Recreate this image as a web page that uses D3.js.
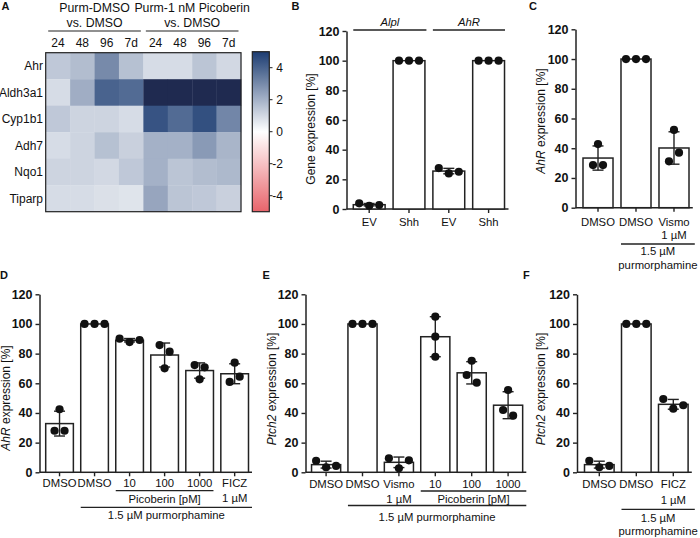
<!DOCTYPE html>
<html><head><meta charset="utf-8">
<script src="https://cdn.jsdelivr.net/npm/d3@7"></script>
<style>
body{margin:0;background:#fff}
svg{display:block}
text{font-family:"Liberation Sans",Arial,Helvetica,sans-serif;fill:#111}
</style>
</head><body>
<svg id="c" width="700" height="538"></svg>
<script>
// ---------------- DATA ----------------
// Panel A heatmap
const heatGenes = ["Ahr", "Aldh3a1", "Cyp1b1", "Adh7", "Nqo1", "Tiparp"];
const heatTimes = ["24", "48", "96", "7d", "24", "48", "96", "7d"];
const heatGroups = [["Purm-DMSO", "vs. DMSO"], ["Purm-1 nM Picoberin", "vs. DMSO"]];
const heatValues = [
  [1.4, 1.7, 3.0, 1.6, 0.9, 0.9, 1.5, 1.0],
  [0.9, 2.1, 4.0, 3.8, 6.5, 6.5, 6.5, 6.5],
  [1.4, 1.1, 1.1, 0.9, 4.4, 3.8, 4.5, 3.1],
  [0.9, 1.1, 1.6, 1.2, 2.0, 2.0, 2.6, 1.9],
  [1.1, 1.1, 1.0, 1.4, 2.0, 1.5, 1.7, 1.8],
  [0.9, 0.9, 0.8, 0.7, 2.3, 1.5, 1.4, 1.2]
];
const colorbarTicks = [4, 2, 0, -2, -4];

// Shared y ticks for bar panels
const yTicks = [0, 20, 40, 60, 80, 100, 120];

// Panel B
const bCategories = ["EV", "Shh", "EV", "Shh"];
const bGroups = ["Alpl", "AhR"];
const bPoints = [[3.8, 2.2, 2.7], [100, 100, 100], [27.6, 24.0, 25.1], [100, 100, 100]];

// Panel C
const cCategories = ["DMSO", "DMSO", "Vismo\n1 µM"];
const cPoints = [[28.7, 42.8, 28.7], [100, 100, 100], [52.3, 31.2, 37.0]];

// Panel D
const dCategories = ["DMSO", "DMSO", "10", "100", "1000", "FICZ\n1 µM"];
const dPoints = [[28.0, 42.5, 28.0], [100, 100, 100], [90.1, 87.8, 89.2], [85.8, 81.3, 70.1], [72.3, 70.8, 62.7], [73.9, 60.9, 64.5]];

// Panel E
const eCategories = ["DMSO", "DMSO", "Vismo\n1 µM", "10", "100", "1000"];
const ePoints = [[7.8, 3.4, 4.3], [100, 100, 100], [9.4, 2.7, 8.1], [104.9, 91.4, 77.9], [75.2, 65.6, 60.4], [55.5, 42.0, 38.2]];

// Panel F
const fCategories = ["DMSO", "DMSO", "FICZ\n1 µM"];
const fPoints = [[7.8, 3.4, 4.3], [100, 100, 100], [49.4, 42.9, 45.2]];

// ---------------- DRAWING ----------------
const svg = d3.select("#c");
const FONT = 12;
const CAT = 11.3;

function panelLabel(t, x, y) {
  svg.append("text").attr("x", x).attr("y", y).attr("font-size", 11).attr("font-weight", "bold").text(t);
}

// ---- Panel A ----
(function () {
  const g = svg.append("g");
  const x = d3.scaleBand().domain(d3.range(heatTimes.length)).range([45.7, 241]);
  const y = d3.scaleBand().domain(d3.range(heatGenes.length)).range([52.7, 211.7]);
  const color = d3.scaleLinear().domain([-5, 0, 5, 6.5])
    .range(["#e8646b", "#ffffff", "#1c3c72", "#1f2a50"]).interpolate(d3.interpolateRgb).clamp(true);
  heatValues.forEach((row, r) => row.forEach((v, c) => {
    g.append("rect").attr("x", x(c)).attr("y", y(r)).attr("width", x.bandwidth() + 0.3).attr("height", y.bandwidth() + 0.3)
      .attr("fill", color(v));
  }));
  g.append("rect").attr("x", 45.7).attr("y", 52.7).attr("width", 241 - 45.7).attr("height", 211.7 - 52.7)
    .attr("fill", "none").attr("stroke", "#222").attr("stroke-width", 1.2);
  heatGenes.forEach((gname, r) => {
    g.append("text").attr("x", 43).attr("y", y(r) + y.bandwidth() / 2).attr("dy", "0.35em")
      .attr("text-anchor", "end").attr("font-size", FONT).text(gname);
  });
  heatTimes.forEach((t, c) => {
    g.append("text").attr("x", x(c) + x.bandwidth() / 2).attr("y", 46.7).attr("text-anchor", "middle")
      .attr("font-size", FONT).text(t);
  });
  heatGroups.forEach((lines, k) => {
    const x0 = x(k * 4), x1 = x(k * 4 + 3) + x.bandwidth();
    const cx = (x0 + x1) / 2;
    g.append("text").attr("x", cx).attr("y", 12.3).attr("text-anchor", "middle").attr("font-size", 12.3).text(lines[0]);
    g.append("text").attr("x", cx).attr("y", 26.7).attr("text-anchor", "middle").attr("font-size", 12.3).text(lines[1]);
    g.append("line").attr("x1", x0 + 2.5).attr("x2", x1 - 2.5).attr("y1", 31).attr("y2", 31)
      .attr("stroke", "#222").attr("stroke-width", 1.2);
  });
  // colorbar
  const cb = d3.scaleLinear().domain([-5, 5]).range([211.7, 51.7]);
  const defs = svg.append("defs");
  const grad = defs.append("linearGradient").attr("id", "cbg").attr("x1", 0).attr("y1", 1).attr("x2", 0).attr("y2", 0);
  d3.range(-5, 5.01, 0.5).forEach(v => grad.append("stop").attr("offset", (v + 5) / 10).attr("stop-color", color(v)));
  g.append("rect").attr("x", 252.3).attr("y", 51.7).attr("width", 17).attr("height", 160)
    .attr("fill", "url(#cbg)").attr("stroke", "#222").attr("stroke-width", 1.2);
  colorbarTicks.forEach(t => {
    g.append("line").attr("x1", 269.3).attr("x2", 272.5).attr("y1", cb(t)).attr("y2", cb(t)).attr("stroke", "#222").attr("stroke-width", 1);
    g.append("text").attr("x", 283).attr("y", cb(t)).attr("dy", "0.35em").attr("text-anchor", "end")
      .attr("font-size", FONT).text(t < 0 ? "-" + Math.abs(t) : String(t));
  });
})();
panelLabel("A", 1.5, 9.5);

// ---- bar panel helper ----
function swarm(vals, y) {
  const idx = d3.range(vals.length).sort((a, b) => vals[a] - vals[b]);
  const clusters = []; let cur = [idx[0]];
  for (let k = 1; k < idx.length; k++) {
    if (Math.abs(y(vals[idx[k]]) - y(vals[idx[k - 1]])) < 9.5) cur.push(idx[k]);
    else { clusters.push(cur); cur = [idx[k]]; }
  }
  clusters.push(cur);
  const off = new Array(vals.length).fill(0);
  clusters.forEach(c => { c.sort((a, b) => a - b); c.forEach((id, k) => off[id] = (k - (c.length - 1) / 2) * 10); });
  return off;
}

function barPanel(cfg) {
  const g = svg.append("g");
  const y = d3.scaleLinear().domain([0, 120]).range(cfg.yRange);
  const x = d3.scaleBand().domain(d3.range(cfg.points.length)).range(cfg.xRange).paddingInner(cfg.pad).paddingOuter(0.1);
  const y0 = cfg.yRange[0];
  // y axis
  const ya = g.append("g").attr("transform", `translate(${cfg.axisX},0)`)
    .call(d3.axisLeft(y).tickValues(yTicks).tickSize(4).tickPadding(3).tickSizeOuter(0));
  ya.select(".domain").attr("stroke", "#222").attr("stroke-width", 1.5);
  ya.selectAll(".tick line").attr("stroke", "#222").attr("stroke-width", 1.4);
  ya.selectAll(".tick text").attr("font-size", 12.5).attr("font-weight", "bold")
    .attr("font-family", '"Liberation Sans",Arial,sans-serif').attr("fill", "#111");
  // x axis
  const xa = g.append("g").attr("transform", `translate(0,${y0})`)
    .call(d3.axisBottom(x).tickSize(4).tickSizeOuter(0).tickFormat(""));
  xa.select(".domain").remove();
  xa.selectAll(".tick line").attr("stroke", "#222").attr("stroke-width", 1.4);
  g.append("line").attr("x1", cfg.axisX).attr("x2", cfg.xRange[1]).attr("y1", y0).attr("y2", y0)
    .attr("stroke", "#222").attr("stroke-width", 1.5);
  // bars
  cfg.points.forEach((pts, i) => {
    const m = d3.mean(pts), sd = d3.deviation(pts) || 0;
    g.append("rect").attr("x", x(i)).attr("y", y(m)).attr("width", x.bandwidth()).attr("height", y0 - y(m))
      .attr("fill", "#fff").attr("stroke", "#222").attr("stroke-width", 1.5);
    const cx = x(i) + x.bandwidth() / 2;
    if (sd > 0.3) {
      g.append("line").attr("x1", cx).attr("x2", cx).attr("y1", y(m - sd)).attr("y2", y(m + sd)).attr("stroke", "#222").attr("stroke-width", 1.4);
      [m - sd, m + sd].forEach(v => g.append("line").attr("x1", cx - 5.5).attr("x2", cx + 5.5).attr("y1", y(v)).attr("y2", y(v))
        .attr("stroke", "#222").attr("stroke-width", 1.4));
    }
    const off = swarm(pts, y);
    pts.forEach((v, k) => g.append("circle").attr("cx", cx + off[k]).attr("cy", y(v)).attr("r", 4.1).attr("fill", "#111"));
    // category label
    const lines = cfg.cats[i].split("\n");
    lines.forEach((t, li) => g.append("text").attr("x", cx).attr("y", cfg.catY + li * cfg.catDy)
      .attr("text-anchor", "middle").attr("font-size", CAT).text(t));
  });
  // y label
  const yl = g.append("text").attr("transform", `translate(${cfg.ylab[0]},${cfg.ylab[1]}) rotate(-90)`)
    .attr("text-anchor", "middle").attr("font-size", FONT);
  cfg.ylabel.forEach(p => yl.append("tspan").attr("font-style", p[1] ? "italic" : "normal").text(p[0]));
  // group annotations
  (cfg.groups || []).forEach(gr => {
    const x0 = x(gr.from) - (gr.padL || 0);
    const x1 = gr.toEnd ? cfg.xRange[1] + (gr.padR || 0) : x(gr.to) + x.bandwidth() + (gr.padR || 0);
    g.append("line").attr("x1", x0).attr("x2", x1).attr("y1", gr.y).attr("y2", gr.y).attr("stroke", "#222").attr("stroke-width", 1.3);
    gr.labels.forEach((lb, li) => g.append("text").attr("x", (x0 + x1) / 2).attr("y", lb.y)
      .attr("text-anchor", "middle").attr("font-size", CAT).attr("font-style", lb.italic ? "italic" : "normal").text(lb.t));
  });
  return { x, y };
}

// ---- Panel B ----
barPanel({
  points: bPoints, cats: bCategories, yRange: [209, 31], xRange: [349.3, 508.5], pad: 0.2, axisX: 346.5,
  catY: 226, catDy: 13, ylab: [315, 129], ylabel: [["Gene expression  [%]", false]],
  groups: [
    { from: 0, to: 1, y: 30, padR: 1.5, labels: [{ t: bGroups[0], y: 26, italic: true }] },
    { from: 2, to: 3, y: 30, padR: 0.5, labels: [{ t: bGroups[1], y: 26, italic: true }] }
  ]
});
panelLabel("B", 291.5, 9.8);

// ---- Panel C ----
barPanel({
  points: cPoints, cats: cCategories, yRange: [207.7, 29.3], xRange: [579.2, 692.8], pad: 0.21, axisX: 575.5,
  catY: 225.7, catDy: 13.3, ylab: [545, 121], ylabel: [["AhR", true], [" expression  [%]", false]],
  groups: [
    { from: 1, toEnd: true, y: 244, padR: 2, labels: [{ t: "1.5 µM", y: 255 }, { t: "purmorphamine", y: 268.5 }] }
  ]
});
panelLabel("C", 529, 9.8);

// ---- Panel D ----
barPanel({
  points: dPoints, cats: dCategories, yRange: [472.3, 294.3], xRange: [42.2, 252], pad: 0.21, axisX: 39.5,
  catY: 487.3, catDy: 14.7, ylab: [10, 398], ylabel: [["AhR", true], [" expression [%]", false]],
  groups: [
    { from: 2, to: 4, y: 490.7, labels: [{ t: "Picoberin [pM]", y: 502.5 }] },
    { from: 1, toEnd: true, y: 507.3, labels: [{ t: "1.5 µM purmorphamine", y: 518.8 }] }
  ]
});
panelLabel("D", 0, 278.8);

// ---- Panel E ----
barPanel({
  points: ePoints, cats: eCategories, yRange: [472.3, 294.3], xRange: [307.9, 526.3], pad: 0.2, axisX: 305.5,
  catY: 488, catDy: 15, ylab: [276, 389], ylabel: [["Ptch2", true], [" expression [%]", false]],
  groups: [
    { from: 3, toEnd: true, y: 491, labels: [{ t: "Picoberin [pM]", y: 502.5 }] },
    { from: 1, toEnd: true, y: 505.5, labels: [{ t: "1.5 µM purmorphamine", y: 520.5 }] }
  ]
});
panelLabel("E", 262.5, 279.3);

// ---- Panel F ----
barPanel({
  points: fPoints, cats: fCategories, yRange: [472.3, 294.3], xRange: [580.8, 691.8], pad: 0.2, axisX: 577,
  catY: 488, catDy: 15.5, ylab: [545, 389], ylabel: [["Ptch2", true], [" expression [%]", false]],
  groups: [
    { from: 1, toEnd: true, y: 509.3, padR: 3, labels: [{ t: "1.5 µM", y: 522 }, { t: "purmorphamine", y: 535 }] }
  ]
});
panelLabel("F", 523, 279.3);
</script>
</body></html>
